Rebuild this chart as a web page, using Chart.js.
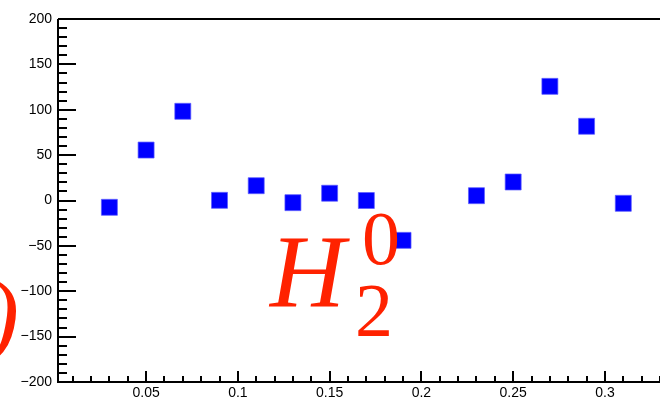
<!DOCTYPE html>
<html lang="en">
<head>
  <meta charset="UTF-8">
  <title>H2 0 scatter</title>
  <script src="https://cdn.jsdelivr.net/npm/chart.js"></script>
  <style>
    body, html {
      margin: 0;
      padding: 0;
      background: #fff;
    }
    canvas { display: block; }
  </style>
</head>
<body>
  <canvas id="grafico" width="660" height="397"></canvas>
  <script>
    // data
    const xValues = [0.03, 0.05, 0.07, 0.09, 0.11, 0.13, 0.15, 0.17, 0.19, 0.23, 0.25, 0.27, 0.29, 0.31];
    const yValues = [-7.5, 55.6, 98.3, 0.2, 16.3, -2.4, 8, 0, -43.9, 5.3, 20.4, 125.8, 81.8, -3.1];
    const xRange = [0.002, 0.33];
    const yRange = [-200, 200];

    const puntos = xValues.map((x, i) => ({ x, y: yValues[i] }));

    // ROOT style frame: inward ticks, top line, no right edge
    const marco = {
      id: "marco",
      afterDraw(chart) {
        const { ctx, chartArea: a, scales: { x, y } } = chart;
        ctx.save();
        ctx.strokeStyle = "#000";
        ctx.lineWidth = 2;
        ctx.beginPath();
        ctx.moveTo(a.left, a.top);
        ctx.lineTo(chart.width, a.top);
        ctx.moveTo(a.left, a.top);
        ctx.lineTo(a.left, a.bottom);
        ctx.lineTo(chart.width, a.bottom);
        ctx.stroke();

        ctx.beginPath();
        for (let v = yRange[0]; v <= yRange[1]; v += 10) {
          const py = Math.round(y.getPixelForValue(v));
          const len = v % 50 === 0 ? 18 : 9;
          ctx.moveTo(a.left, py);
          ctx.lineTo(a.left + len, py);
        }
        for (let k = 1; k <= 33; k++) {
          const v = k / 100;
          if (v > xRange[1]) break;
          const px = Math.round(x.getPixelForValue(v));
          const len = k % 5 === 0 ? 11 : 6;
          ctx.moveTo(px, a.bottom);
          ctx.lineTo(px, a.bottom - len);
        }
        ctx.stroke();
        ctx.restore();
      },
      afterDatasetsDraw(chart) {
        const { ctx, chartArea: a } = chart;
        ctx.save();
        ctx.fillStyle = "#ff2200";
        ctx.textBaseline = "alphabetic";
        ctx.font = "italic 104px 'Liberation Serif', serif";
        ctx.fillText("H", a.left + 212, 307);
        ctx.font = "76px 'Liberation Serif', serif";
        ctx.fillText("2", a.left + 297, 336);
        ctx.fillText("0", a.left + 304, 264);
        // clipped glyph at the left edge
        ctx.font = "italic 96px 'Liberation Serif', serif";
        ctx.fillText(")", -13, 347);
        ctx.restore();
      }
    };

    const fuenteEjes = { family: "'Liberation Sans', Arial, sans-serif", size: 14 };

    new Chart(document.getElementById("grafico"), {
      type: "scatter",
      data: {
        datasets: [{
          data: puntos,
          pointStyle: "rect",
          pointRadius: 11.3,
          pointHoverRadius: 11.3,
          backgroundColor: "#0000ff",
          borderColor: "rgba(90,90,255,0.7)",
          borderWidth: 1
        }]
      },
      plugins: [marco],
      options: {
        responsive: false,
        animation: false,
        layout: { autoPadding: false, padding: { top: 19, left: 0, right: 0, bottom: 0 } },
        plugins: { legend: { display: false }, tooltip: { enabled: false } },
        scales: {
          x: {
            type: "linear",
            min: xRange[0],
            max: xRange[1],
            grid: { display: false, drawTicks: false },
            border: { display: false },
            afterFit: s => { s.height = 15; s.paddingLeft = 0; s.paddingRight = 0; },
            ticks: {
              stepSize: 0.05,
              includeBounds: false,
              padding: 3,
              color: "#000",
              font: fuenteEjes,
              callback: v => String(Number(v.toFixed(2)))
            }
          },
          y: {
            min: yRange[0],
            max: yRange[1],
            grid: { display: false, drawTicks: false },
            border: { display: false },
            afterFit: s => { s.width = 58; s.paddingTop = 0; s.paddingBottom = 0; },
            ticks: {
              stepSize: 50,
              padding: 6,
              color: "#000",
              font: fuenteEjes,
              callback: v => String(v).replace("-", "\u2212")
            }
          }
        }
      }
    });
  </script>
</body>
</html>
